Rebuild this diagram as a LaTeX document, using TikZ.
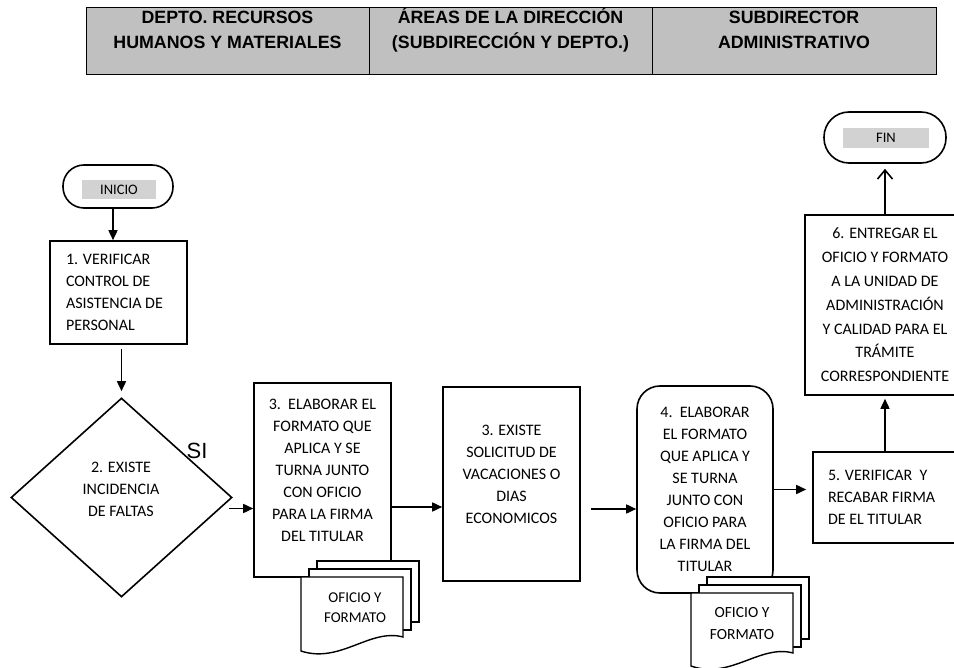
\documentclass[tikz,border=0pt]{standalone}
\usepackage{fontspec}
\setmainfont{Carlito}
\newfontfamily\headfont{Liberation Sans}
\usetikzlibrary{arrows.meta, shapes.geometric}
\definecolor{headgray}{RGB}{192,192,192}
\definecolor{taggray}{RGB}{210,210,210}
\tikzset{>={Triangle[length=10pt,width=9pt]}}

\begin{document}
\begin{tikzpicture}[x=1pt, y=-1pt, line width=1.6pt,
  txt/.style={font=\fontsize{16}{22}\selectfont, align=center, inner sep=0pt},
  box/.style={txt, draw, fill=white},
  headcell/.style={draw, fill=headgray, line width=1.3pt, minimum height=67pt, inner sep=0pt, anchor=north west},
  headtxt/.style={font=\headfont\bfseries\fontsize{17.8}{24.3}\selectfont, align=center},
  term/.style={draw, rounded corners=21pt},
  tag/.style={fill=taggray, font=\fontsize{14.5}{16}\selectfont, inner sep=0pt},
  sheet/.style={draw, fill=white, line width=1.4pt},
  doctxt/.style={font=\fontsize{15}{20}\selectfont, align=center, inner sep=0pt}]
\useasboundingbox (0,0) rectangle (954,668);

% encabezado
\node[headcell, minimum width=283pt] (rh) at (86,7) {};
\node[headcell, minimum width=283pt] (ad) at (369,7) {};
\node[headcell, minimum width=284pt] (sa) at (652,7) {};
\node[headtxt] (rht) at (227.5,30) {DEPTO. RECURSOS\\HUMANOS Y MATERIALES};
\node[headtxt] (adt) at (510.5,30) {ÁREAS DE LA DIRECCIÓN\\(SUBDIRECCIÓN Y DEPTO.)};
\node[headtxt] (sat) at (794,30) {SUBDIRECTOR\\ADMINISTRATIVO};

% inicio y paso 1
\node[term, minimum width=110pt, minimum height=43pt] (inicio) at (118,186.5) {};
\node[tag, minimum width=74pt, minimum height=19pt] (iniciot) at (119,189.5) {INICIO};
\node[box, text width=105pt, align=flush left, minimum width=137pt, minimum height=103pt] (verif) at (118.5,292.5)
  {1. VERIFICAR\\CONTROL DE\\ASISTENCIA DE\\PERSONAL};

% decision
\node[draw, diamond, minimum width=221pt, minimum height=199pt, inner sep=0pt] (dec) at (121.5,497.5) {};
\node[txt] (dect) at (121,489.5) {2. EXISTE\\INCIDENCIA\\DE FALTAS};
\node[font=\headfont\fontsize{22}{22}\selectfont, inner sep=0pt] (si) at (197,451) {SI};

% pasos 3
\node[box, minimum width=137pt, minimum height=194pt] (elab1) at (322.5,480) {};
\node[txt] (elab1t) at (322.5,470) {3.\ \ ELABORAR EL\\FORMATO QUE\\APLICA Y SE\\TURNA JUNTO\\CON OFICIO\\PARA LA FIRMA\\DEL TITULAR};
\node[box, minimum width=137pt, minimum height=194pt] (exist) at (511.5,484) {};
\node[txt] (existt) at (511.5,474) {3. EXISTE\\SOLICITUD DE\\VACACIONES O\\DIAS\\ECONOMICOS};

% paso 4
\node[box, rounded corners=23pt, minimum width=136pt, minimum height=207pt] (elab2) at (705,489.5)
  {4.\ \ ELABORAR\\EL FORMATO\\QUE APLICA Y\\SE TURNA\\JUNTO CON\\OFICIO PARA\\LA FIRMA DEL\\TITULAR};

% pasos 5 y 6, fin
\node[box, text width=125pt, align=flush left, minimum width=155pt, minimum height=91pt] (firma) at (890.5,497.5)
  {5. VERIFICAR\ \ Y\\RECABAR FIRMA\\DE EL TITULAR};
\node[box, font=\fontsize{16}{23.8}\selectfont, minimum width=160pt, minimum height=180pt] (entregar) at (885,305)
  {6. ENTREGAR EL\\OFICIO Y FORMATO\\A LA UNIDAD DE\\ADMINISTRACIÓN\\Y CALIDAD PARA EL\\TRÁMITE\\CORRESPONDIENTE};
\node[term, rounded corners=25pt, minimum width=122pt, minimum height=51pt] (fin) at (885,137.5) {};
\node[tag, minimum width=86pt, minimum height=20pt] (fint) at (886,138) {FIN};

% documentos
\foreach \d in {16,8}
  \draw[sheet] (301+\d,577-\d) rectangle ++(102,61);
\draw[sheet] (301,577) -- ++(102,0) -- ++(0,60) .. controls (370,628) and (340,664) .. (301,651) -- cycle;
\node[doctxt] (ofi1) at (355,607.5) {OFICIO Y\\FORMATO};
\foreach \d in {16,8}
  \draw[sheet] (691+\d,593-\d) rectangle ++(102,62);
\draw[sheet] (691,593) -- ++(102,0) -- ++(0,60) .. controls (760,644) and (730,680) .. (691,666) -- cycle;
\node[doctxt, font=\fontsize{15.5}{22}\selectfont] (ofi2) at (742,624) {OFICIO Y\\FORMATO};

% flechas
\coordinate (decout) at ([shift={(-4,11)}]dec.east);
\draw[->] ([xshift=-5pt]inicio.south) -- ([xshift=-5pt]inicio.south |- verif.north);
\draw[->, shorten <=4pt, shorten >=6pt] (verif.south -| dec.north) -- (dec.north);
\draw[->] (decout) -- (decout -| elab1.west);
\draw[->] ([yshift=-27pt]elab1.east) -- ([yshift=-27pt]elab1.east -| exist.west);
\draw[->, shorten <=10pt] ([yshift=-25pt]exist.east) -- ([yshift=-25pt]exist.east -| elab2.west);
\draw[->, shorten >=6pt] (elab2.east) -- (elab2.east -| firma.west);
\draw[->, shorten >=3pt] (firma.north -| entregar.south) -- (entregar.south);
\draw[-{Straight Barb[length=9pt,width=15pt]}, shorten >=5pt] (entregar.north) -- (fin.south);
\end{tikzpicture}
\end{document}
